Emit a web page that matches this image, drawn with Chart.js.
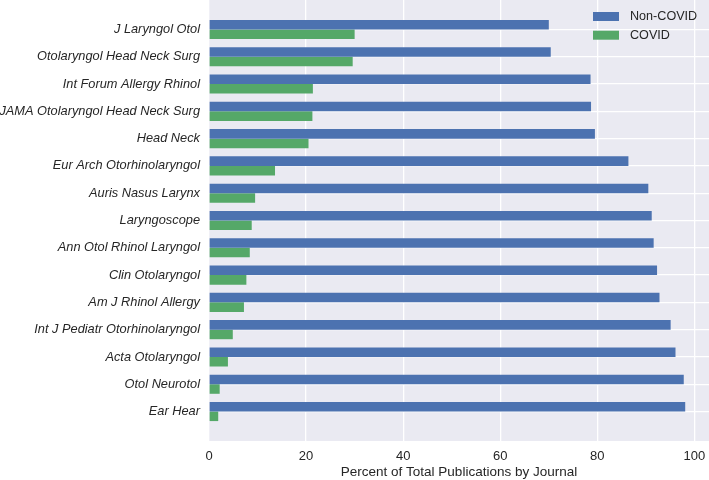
<!DOCTYPE html>
<html>
<head>
<meta charset="utf-8">
<style>
  html, body { margin: 0; padding: 0; background: #fff; }
  #wrap { width: 709px; height: 480px; }
</style>
<script src="https://cdn.jsdelivr.net/npm/chart.js@4"></script>
</head>
<body>
<div id="wrap"><canvas id="pubChart" width="709" height="480"></canvas></div>
<script>
// journals, top to bottom
const journals = [
    'J Laryngol Otol', 'Otolaryngol Head Neck Surg', 'Int Forum Allergy Rhinol',
    'JAMA Otolaryngol Head Neck Surg', 'Head Neck', 'Eur Arch Otorhinolaryngol',
    'Auris Nasus Larynx', 'Laryngoscope', 'Ann Otol Rhinol Laryngol',
    'Clin Otolaryngol', 'Am J Rhinol Allergy', 'Int J Pediatr Otorhinolaryngol',
    'Acta Otolaryngol', 'Otol Neurotol', 'Ear Hear'
];
const nonCovid = [70.0, 70.4, 78.6, 78.7, 79.5, 86.4, 90.5, 91.2, 91.6, 92.3, 92.8, 95.1, 96.1, 97.8, 98.1];
const covid = [30.0, 29.6, 21.4, 21.3, 20.5, 13.6, 9.5, 8.8, 8.4, 7.7, 7.2, 4.9, 3.9, 2.2, 1.9];
const xTicks = [0, 20, 40, 60, 80, 100];

const FONT = "'Liberation Sans', Arial, Helvetica, sans-serif";

// gray plot background like seaborn darkgrid
const plotBg = {
    id: 'plotBg',
    beforeDraw(chart) {
        const { ctx, chartArea: a } = chart;
        ctx.save();
        ctx.fillStyle = '#EAEAF2';
        ctx.fillRect(a.left, a.top, a.right - a.left, a.bottom - a.top);
        ctx.restore();
    }
};

// legend drawn inside the plot, top right
const innerLegend = {
    id: 'innerLegend',
    afterDraw(chart) {
        const { ctx, chartArea: a } = chart;
        ctx.save();
        ctx.font = '12.6px ' + FONT;
        ctx.textBaseline = 'middle';
        chart.data.datasets.forEach((ds, i) => {
            const y = a.top + 16.5 + i * 18.7;
            ctx.fillStyle = ds.backgroundColor;
            ctx.fillRect(a.right - 116, y - 4.5, 26, 9);
            ctx.fillStyle = '#262626';
            ctx.fillText(ds.label, a.right - 79, y);
        });
        ctx.restore();
    }
};

// drop the extra room Chart.js keeps for half tick labels
function noPad(scale) {
    scale.paddingTop = 0;
    scale.paddingBottom = 0;
    scale.paddingLeft = 0;
    scale.paddingRight = 0;
}

const points = arr => arr.map((v, i) => ({ x: v, y: i }));

const ctx = document.getElementById('pubChart').getContext('2d');
const pubChart = new Chart(ctx, {
    type: 'bar',
    data: {
        datasets: [{
            label: 'Non-COVID',
            data: points(nonCovid),
            backgroundColor: '#4C72B0',
        }, {
            label: 'COVID',
            data: points(covid),
            backgroundColor: '#55A868',
        }],
    },
    options: {
        indexAxis: 'y',
        responsive: false,
        animation: false,
        layout: { padding: 0 },
        categoryPercentage: 0.7,
        barPercentage: 1.0,
        plugins: {
            legend: { display: false },
            tooltip: { enabled: false },
        },
        scales: {
            x: {
                type: 'linear',
                min: 0,
                max: 103,
                afterBuildTicks: scale => { scale.ticks = xTicks.map(v => ({ value: v })); },
                afterFit: scale => { scale.height = 39; noPad(scale); },
                grid: { color: '#FFFFFF', lineWidth: 1.3, drawTicks: false },
                border: { display: false },
                ticks: { color: '#262626', font: { family: FONT, size: 13 }, padding: 8 },
                title: {
                    display: true,
                    text: 'Percent of Total Publications by Journal',
                    color: '#262626',
                    font: { family: FONT, size: 13.5 },
                    padding: { top: 0, bottom: 0 },
                },
            },
            y: {
                type: 'linear',
                reverse: true,
                offset: false,
                min: -1.08,
                max: 15.08,
                afterBuildTicks: scale => { scale.ticks = journals.map((_, i) => ({ value: i })); },
                afterFit: scale => { scale.width = 209; noPad(scale); },
                grid: { color: '#FFFFFF', lineWidth: 1.3, drawTicks: false, offset: false },
                border: { display: false },
                ticks: {
                    color: '#262626',
                    font: { family: FONT, size: 12.8, style: 'italic' },
                    padding: 9,
                    callback: v => journals[v],
                },
            },
        },
    },
    plugins: [plotBg, innerLegend],
});
</script>
</body>
</html>
